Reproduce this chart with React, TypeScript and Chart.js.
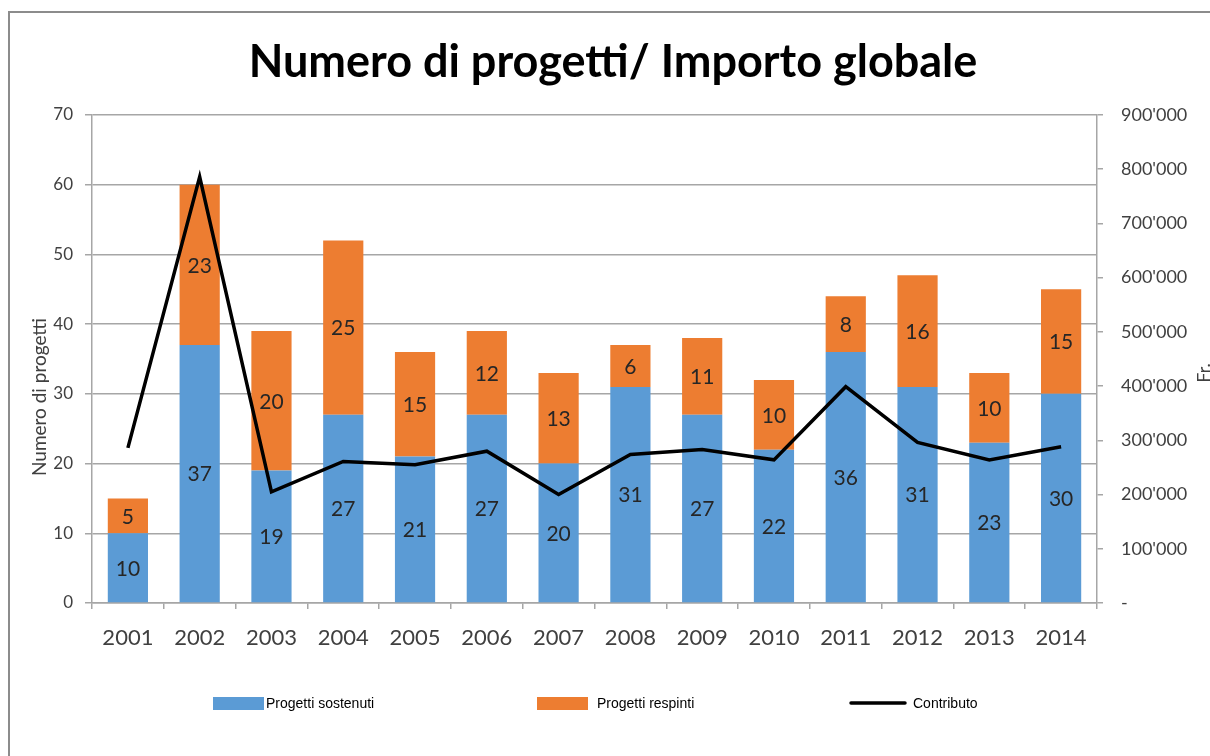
import React, { useEffect, useRef } from "react";
import { Chart, registerables } from "chart.js";

Chart.register(...registerables);

const years = ["2001", "2002", "2003", "2004", "2005", "2006", "2007", "2008", "2009", "2010", "2011", "2012", "2013", "2014"];
const sostenuti = [10, 37, 19, 27, 21, 27, 20, 31, 27, 22, 36, 31, 23, 30];
const respinti = [5, 23, 20, 25, 15, 12, 13, 6, 11, 10, 8, 16, 10, 15];
const contributo = [286000, 786000, 205000, 261000, 255000, 280000, 200000, 274000, 283000, 264000, 399000, 296000, 264000, 288000];

const TITLE = "Numero di progetti/ Importo globale";
const LEFT_TITLE = "Numero di progetti";
const RIGHT_TITLE = "Fr.";

const BLUE = "#5B9BD5";
const ORANGE = "#ED7D31";
const GRID = "#A6A6A6";
const TEXT = "#404040";

const W = 1202;
const H = 748;

function fmtFr(v: number): string {
  if (v === 0) return "-";
  const s = Math.round(v).toString();
  return s.replace(/\B(?=(\d{3})+(?!\d))/g, "'");
}

const decorPlugin = {
  id: "decor",
  afterDatasetsDraw(chart: any) {
    const ctx = chart.ctx;
    ctx.save();
    ctx.font = "21px Lato";
    ctx.fillStyle = "#262626";
    ctx.textAlign = "center";
    ctx.textBaseline = "middle";
    chart.data.datasets.forEach((ds: any, i: number) => {
      if (ds.type === "line") return;
      const meta = chart.getDatasetMeta(i);
      meta.data.forEach((el: any, j: number) => {
        const y = (el.y + el.base) / 2;
        ctx.fillText(String(ds.data[j]), el.x, y + 1);
      });
    });
    ctx.restore();
  },
  afterDraw(chart: any) {
    const ctx = chart.ctx;
    ctx.save();
    // title
    ctx.font = "bold 45px Lato";
    ctx.fillStyle = "#000";
    ctx.textAlign = "center";
    ctx.textBaseline = "middle";
    ctx.fillText(TITLE, 605, 54);
    // left axis title
    ctx.font = "19px Lato";
    ctx.fillStyle = TEXT;
    ctx.save();
    ctx.translate(32, 389);
    ctx.rotate(-Math.PI / 2);
    ctx.fillText(LEFT_TITLE, 0, 0);
    ctx.restore();
    // right axis title (reads bottom to top)
    ctx.save();
    ctx.font = "18px Lato";
    ctx.translate(1202, 365);
    ctx.rotate(-Math.PI / 2);
    ctx.textBaseline = "alphabetic";
    ctx.fillText(RIGHT_TITLE, 0, 0);
    ctx.restore();
    // legend
    const items = [
      { box: 205, text: 258 },
      { box: 529, text: 589 },
      { box: 843, text: 905 },
    ];
    const ly = 695;
    ctx.font = "14px 'Liberation Sans'";
    ctx.textAlign = "left";
    ctx.textBaseline = "middle";
    chart.data.datasets.forEach((ds: any, i: number) => {
      const it = items[i];
      if (ds.type === "line") {
        ctx.strokeStyle = ds.borderColor;
        ctx.lineWidth = 3.5;
        ctx.lineCap = "round";
        ctx.beginPath();
        ctx.moveTo(it.box, ly);
        ctx.lineTo(it.box + 54, ly);
        ctx.stroke();
      } else {
        ctx.fillStyle = ds.backgroundColor;
        ctx.fillRect(it.box, ly - 6, 51, 13);
      }
      ctx.fillStyle = "#000";
      ctx.fillText(ds.label, it.text, ly + 1);
    });
    ctx.restore();
  },
};

export default function App() {
  const ref = useRef<HTMLCanvasElement | null>(null);
  useEffect(() => {
    if (!ref.current) return;
    const chart = new Chart(ref.current, {
      type: "bar",
      data: {
        labels: years,
        datasets: [
          {
            type: "bar",
            label: "Progetti sostenuti",
            data: sostenuti,
            backgroundColor: BLUE,
            yAxisID: "y",
            stack: "s",
            order: 2,
            barPercentage: 0.56,
            categoryPercentage: 1,
          },
          {
            type: "bar",
            label: "Progetti respinti",
            data: respinti,
            backgroundColor: ORANGE,
            yAxisID: "y",
            stack: "s",
            order: 2,
            barPercentage: 0.56,
            categoryPercentage: 1,
          },
          {
            type: "line",
            label: "Contributo",
            data: contributo,
            borderColor: "#000",
            backgroundColor: "#000",
            borderWidth: 3.5,
            pointRadius: 0,
            tension: 0,
            yAxisID: "y1",
            order: 0,
          },
        ] as any,
      },
      options: {
        responsive: false,
        animation: false,
        layout: { padding: { top: 107, left: 0, right: 0, bottom: 0 } },
        plugins: {
          legend: { display: false },
          title: { display: false },
          tooltip: { enabled: false },
        },
        scales: {
          x: {
            stacked: true,
            grid: { display: true, drawOnChartArea: false, drawTicks: true, tickLength: 6, offset: true, color: GRID, lineWidth: 1.5 },
            border: { display: true, color: GRID, width: 1.5 },
            ticks: { color: TEXT, font: { family: "Lato", size: 22 }, padding: 16, maxRotation: 0 },
            afterFit: (s: any) => { s.height = 153; },
          },
          y: {
            stacked: true,
            position: "left",
            min: 0,
            max: 70,
            ticks: { stepSize: 10, color: TEXT, font: { family: "Lato", size: 17 }, padding: 12 },
            grid: { color: GRID, lineWidth: 1.5, tickLength: 7 },
            border: { display: true, color: GRID, width: 1.5 },
            afterFit: (s: any) => { s.width = 84; },
          },
          y1: {
            position: "right",
            min: 0,
            max: 900000,
            ticks: { stepSize: 100000, color: TEXT, font: { family: "Lato", size: 18 }, padding: 18, callback: (v: any) => fmtFr(Number(v)) },
            grid: { drawOnChartArea: false, color: GRID, lineWidth: 1.5, tickLength: 6 },
            border: { display: true, color: GRID, width: 1.5 },
            afterFit: (s: any) => { s.width = 113; },
          },
        },
      } as any,
      plugins: [decorPlugin],
    });
    return () => chart.destroy();
  }, []);

  return (
    <div style={{ position: "fixed", left: 8, top: 8, width: W, height: H, overflow: "hidden" }}>
      <div
        style={{
          position: "absolute",
          left: 0,
          top: 3,
          width: 1400,
          height: 1000,
          borderLeft: "2px solid #8C8C8C",
          borderTop: "2px solid #8C8C8C",
        }}
      />
      <canvas ref={ref} width={W} height={H} style={{ position: "absolute", left: 0, top: 0 }} />
    </div>
  );
}
